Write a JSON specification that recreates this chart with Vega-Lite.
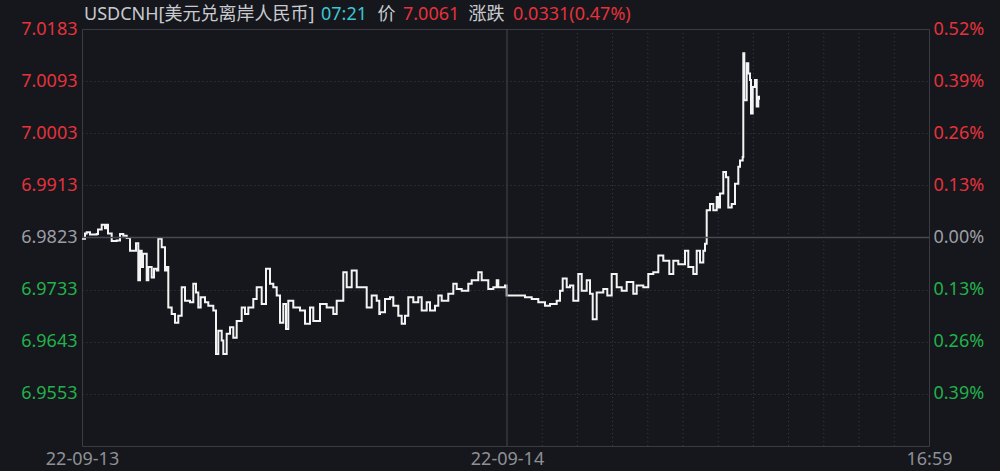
{
  "$schema": "https://vega.github.io/schema/vega-lite/v6.json",
  "width": 847,
  "height": 417,
  "autosize": "none",
  "padding": {"left": 82, "top": 29, "right": 71, "bottom": 25},
  "background": "#15171c",
  "config": {
    "view": {"stroke": "#3a3c42", "strokeWidth": 1},
    "font": "Noto Sans, Noto Sans CJK SC"
  },
  "datasets": {
    "price": [
      {"t": 0, "v": 6.9821}, {"t": 3, "v": 6.9830}, {"t": 4.7, "v": 6.9832}, {"t": 8, "v": 6.9828},
      {"t": 14.7, "v": 6.9829}, {"t": 16, "v": 6.9837}, {"t": 19.7, "v": 6.9845}, {"t": 23, "v": 6.9839},
      {"t": 24.7, "v": 6.9845}, {"t": 26, "v": 6.9830}, {"t": 29.7, "v": 6.9817}, {"t": 34.7, "v": 6.9818},
      {"t": 38, "v": 6.9829}, {"t": 41.3, "v": 6.9826}, {"t": 44.7, "v": 6.9822}, {"t": 48, "v": 6.9800},
      {"t": 51, "v": 6.9800}, {"t": 54, "v": 6.9813}, {"t": 56.3, "v": 6.9749}, {"t": 58, "v": 6.9800},
      {"t": 59.7, "v": 6.9772}, {"t": 61, "v": 6.9795}, {"t": 64.7, "v": 6.9749}, {"t": 66.3, "v": 6.9772},
      {"t": 69.7, "v": 6.9754}, {"t": 72, "v": 6.9769}, {"t": 74.7, "v": 6.9766}, {"t": 76.3, "v": 6.9821},
      {"t": 79.7, "v": 6.9806}, {"t": 83, "v": 6.9766}, {"t": 84.7, "v": 6.9772}, {"t": 86.3, "v": 6.9702},
      {"t": 89.7, "v": 6.9691}, {"t": 93, "v": 6.9676}, {"t": 96.3, "v": 6.9688}, {"t": 99.7, "v": 6.9737},
      {"t": 103, "v": 6.9714}, {"t": 108, "v": 6.9711}, {"t": 111.3, "v": 6.9743}, {"t": 114, "v": 6.9728},
      {"t": 116.3, "v": 6.9702}, {"t": 118.7, "v": 6.9720}, {"t": 123, "v": 6.9711}, {"t": 126.3, "v": 6.9705},
      {"t": 131.3, "v": 6.9697}, {"t": 134, "v": 6.9622}, {"t": 136.3, "v": 6.9662}, {"t": 139.7, "v": 6.9645},
      {"t": 141.3, "v": 6.9622}, {"t": 144.7, "v": 6.9657}, {"t": 148, "v": 6.9668}, {"t": 151.3, "v": 6.9650},
      {"t": 154.7, "v": 6.9679}, {"t": 159.7, "v": 6.9702}, {"t": 163, "v": 6.9691}, {"t": 166.3, "v": 6.9702},
      {"t": 171.3, "v": 6.9717}, {"t": 174.7, "v": 6.9737}, {"t": 179.7, "v": 6.9708}, {"t": 184, "v": 6.9769},
      {"t": 188, "v": 6.9743}, {"t": 191.3, "v": 6.9737}, {"t": 194.7, "v": 6.9723}, {"t": 198, "v": 6.9676},
      {"t": 201.3, "v": 6.9708}, {"t": 204, "v": 6.9665}, {"t": 206.3, "v": 6.9714}, {"t": 211.3, "v": 6.9702},
      {"t": 218, "v": 6.9697}, {"t": 223, "v": 6.9674}, {"t": 228, "v": 6.9702}, {"t": 231.3, "v": 6.9679},
      {"t": 238, "v": 6.9708}, {"t": 244.7, "v": 6.9702}, {"t": 251.3, "v": 6.9691}, {"t": 254.7, "v": 6.9714},
      {"t": 261.3, "v": 6.9763}, {"t": 264.7, "v": 6.9737}, {"t": 269.7, "v": 6.9766}, {"t": 274.7, "v": 6.9737},
      {"t": 281.3, "v": 6.9737}, {"t": 284.7, "v": 6.9702}, {"t": 289.7, "v": 6.9723}, {"t": 294.7, "v": 6.9714},
      {"t": 297.3, "v": 6.9691}, {"t": 298, "v": 6.9694}, {"t": 303, "v": 6.9717}, {"t": 308, "v": 6.9720},
      {"t": 311.3, "v": 6.9705}, {"t": 316.3, "v": 6.9688}, {"t": 319.7, "v": 6.9674}, {"t": 323, "v": 6.9688},
      {"t": 326.3, "v": 6.9720}, {"t": 331.3, "v": 6.9711}, {"t": 336.3, "v": 6.9720}, {"t": 339.7, "v": 6.9697},
      {"t": 344.7, "v": 6.9711}, {"t": 348, "v": 6.9697}, {"t": 353, "v": 6.9705}, {"t": 356.3, "v": 6.9723},
      {"t": 359.7, "v": 6.9714}, {"t": 366.3, "v": 6.9726}, {"t": 371.3, "v": 6.9743}, {"t": 374.7, "v": 6.9734},
      {"t": 379.7, "v": 6.9731}, {"t": 386.3, "v": 6.9743}, {"t": 389.7, "v": 6.9749}, {"t": 396.3, "v": 6.9763},
      {"t": 399.7, "v": 6.9749}, {"t": 406.3, "v": 6.9734}, {"t": 411.3, "v": 6.9737}, {"t": 414.7, "v": 6.9749},
      {"t": 416.3, "v": 6.9737}, {"t": 423, "v": 6.9740}, {"t": 424.7, "v": 6.9723}, {"t": 431.3, "v": 6.9723},
      {"t": 443, "v": 6.9720}, {"t": 449.7, "v": 6.9717}, {"t": 456.3, "v": 6.9711}, {"t": 463, "v": 6.9705},
      {"t": 468, "v": 6.9708}, {"t": 474.7, "v": 6.9714}, {"t": 478, "v": 6.9731}, {"t": 480.7, "v": 6.9752},
      {"t": 484.7, "v": 6.9737}, {"t": 488, "v": 6.9740}, {"t": 491.3, "v": 6.9714}, {"t": 496.3, "v": 6.9760},
      {"t": 499.7, "v": 6.9731}, {"t": 504.7, "v": 6.9749}, {"t": 508, "v": 6.9726}, {"t": 510.7, "v": 6.9682},
      {"t": 514.7, "v": 6.9728}, {"t": 521.3, "v": 6.9734}, {"t": 525.3, "v": 6.9723}, {"t": 529.7, "v": 6.9760},
      {"t": 534.7, "v": 6.9737}, {"t": 539.7, "v": 6.9731}, {"t": 544.7, "v": 6.9746}, {"t": 551.3, "v": 6.9726},
      {"t": 554.7, "v": 6.9740}, {"t": 561.3, "v": 6.9737}, {"t": 566.3, "v": 6.9760}, {"t": 571.3, "v": 6.9763},
      {"t": 576.3, "v": 6.9792}, {"t": 581.3, "v": 6.9783}, {"t": 587.3, "v": 6.9760}, {"t": 591.3, "v": 6.9783},
      {"t": 596.3, "v": 6.9777}, {"t": 603, "v": 6.9800}, {"t": 606.3, "v": 6.9772}, {"t": 611.3, "v": 6.9760},
      {"t": 614.7, "v": 6.9800}, {"t": 618, "v": 6.9780}, {"t": 621.3, "v": 6.9800}, {"t": 623, "v": 6.9812},
      {"t": 624.7, "v": 6.9870}, {"t": 628, "v": 6.9881}, {"t": 631.3, "v": 6.9870}, {"t": 634.7, "v": 6.9893},
      {"t": 636.3, "v": 6.9875}, {"t": 638, "v": 6.9899}, {"t": 641.3, "v": 6.9936}, {"t": 644, "v": 6.9927},
      {"t": 646.3, "v": 6.9875}, {"t": 649.7, "v": 6.9881}, {"t": 653, "v": 6.9916}, {"t": 656.3, "v": 6.9945},
      {"t": 658, "v": 6.9956}, {"t": 660.7, "v": 6.9962}, {"t": 661.3, "v": 7.0141}, {"t": 662.3, "v": 7.0060},
      {"t": 664.7, "v": 7.0124}, {"t": 666.3, "v": 7.0106}, {"t": 668, "v": 7.0095}, {"t": 669, "v": 7.0037},
      {"t": 670.7, "v": 7.0083}, {"t": 673, "v": 7.0095}, {"t": 674.7, "v": 7.0049}, {"t": 676.3, "v": 7.0066},
      {"t": 677, "v": 7.0061}
    ],
    "hours": [
      {"t": 460.2}, {"t": 495.4}, {"t": 530.6}, {"t": 565.8}, {"t": 601}, {"t": 636.2},
      {"t": 671.4}, {"t": 706.6}, {"t": 741.8}, {"t": 777}, {"t": 812.2}
    ],
    "one": [{"k": 1}]
  },
  "resolve": {"axis": {"y": "independent"}},
  "layer": [
    {
      "data": {"name": "hours"},
      "mark": {"type": "rule", "color": "#3a3d43", "strokeWidth": 1, "strokeDash": [1, 3]},
      "encoding": {
        "x": {"field": "t", "type": "quantitative", "title": null, "scale": {"domain": [0, 847], "nice": false, "zero": false}}
      }
    },
    {
      "data": {"name": "price"},
      "mark": {"type": "line", "color": "#f4f4f4", "strokeWidth": 2, "interpolate": "step-after"},
      "encoding": {
        "x": {
          "field": "t", "type": "quantitative", "title": null,
          "scale": {"domain": [0, 847], "nice": false, "zero": false},
          "axis": {
            "values": [0, 425, 847],
            "labelExpr": "datum.value == 0 ? '22-09-13' : datum.value == 425 ? '22-09-14' : '16:59'",
            "labelFontSize": 18, "labelColor": "#8e9096", "labelPadding": 4,
            "ticks": false, "domain": false, "grid": false, "labelFlush": false
          }
        },
        "y": {
          "field": "v", "type": "quantitative", "title": null,
          "scale": {"domain": [6.9463, 7.0183], "nice": false, "zero": false},
          "axis": {
            "orient": "left",
            "values": [6.9553, 6.9643, 6.9733, 6.9823, 6.9913, 7.0003, 7.0093, 7.0183],
            "format": ".4f",
            "labelFontSize": 18, "labelPadding": 5, "labelBaseline": "middle",
            "labelColor": {
              "condition": [
                {"test": "datum.value > 6.98235", "value": "#e5323b"},
                {"test": "datum.value < 6.98225", "value": "#22b14c"}
              ],
              "value": "#9c9ea3"
            },
            "ticks": false, "domain": false,
            "grid": true, "gridColor": "#3a3d43", "gridDash": [1, 3], "gridWidth": 1
          }
        }
      }
    },
    {
      "data": {"name": "one"},
      "mark": {"type": "rule", "color": "#46494f", "strokeWidth": 1.5},
      "encoding": {
        "y": {
          "datum": 6.9823, "type": "quantitative", "title": null,
          "scale": {"domain": [6.9463, 7.0183], "nice": false, "zero": false},
          "axis": {
            "orient": "right",
            "values": [6.9553, 6.9643, 6.9733, 6.9823, 6.9913, 7.0003, 7.0093, 7.0183],
            "labelExpr": "format(abs(datum.value - 6.9823) / 6.9823 * 100, '.2f') + '%'",
            "labelFontSize": 18, "labelPadding": 4, "labelBaseline": "middle",
            "labelColor": {
              "condition": [
                {"test": "datum.value > 6.98235", "value": "#e5323b"},
                {"test": "datum.value < 6.98225", "value": "#22b14c"}
              ],
              "value": "#9c9ea3"
            },
            "ticks": false, "domain": false, "grid": false
          }
        }
      }
    },
    {
      "data": {"name": "one"},
      "mark": {"type": "rule", "color": "#46494f", "strokeWidth": 1},
      "encoding": {
        "x": {"datum": 425, "type": "quantitative", "title": null}
      }
    },
    {
      "data": {"name": "one"},
      "mark": {"type": "text", "text": "USDCNH[美元兑离岸人民币]", "align": "left", "baseline": "alphabetic", "fontSize": 18, "color": "#c8cacf"},
      "encoding": {
        "x": {"datum": 2, "type": "quantitative", "title": null},
        "y": {"datum": 7.01994, "type": "quantitative", "axis": null}
      }
    },
    {
      "data": {"name": "one"},
      "mark": {"type": "text", "text": "07:21", "align": "left", "baseline": "alphabetic", "fontSize": 18, "color": "#3cc6d2"},
      "encoding": {
        "x": {"datum": 239, "type": "quantitative", "title": null},
        "y": {"datum": 7.01994, "type": "quantitative", "axis": null}
      }
    },
    {
      "data": {"name": "one"},
      "mark": {"type": "text", "text": "价", "align": "left", "baseline": "alphabetic", "fontSize": 18, "color": "#c8cacf"},
      "encoding": {
        "x": {"datum": 295.6, "type": "quantitative", "title": null},
        "y": {"datum": 7.01994, "type": "quantitative", "axis": null}
      }
    },
    {
      "data": {"name": "one"},
      "mark": {"type": "text", "text": "7.0061", "align": "left", "baseline": "alphabetic", "fontSize": 18, "color": "#e5323b"},
      "encoding": {
        "x": {"datum": 321, "type": "quantitative", "title": null},
        "y": {"datum": 7.01994, "type": "quantitative", "axis": null}
      }
    },
    {
      "data": {"name": "one"},
      "mark": {"type": "text", "text": "涨跌", "align": "left", "baseline": "alphabetic", "fontSize": 18, "color": "#c8cacf"},
      "encoding": {
        "x": {"datum": 386.6, "type": "quantitative", "title": null},
        "y": {"datum": 7.01994, "type": "quantitative", "axis": null}
      }
    },
    {
      "data": {"name": "one"},
      "mark": {"type": "text", "text": "0.0331(0.47%)", "align": "left", "baseline": "alphabetic", "fontSize": 18, "color": "#e5323b"},
      "encoding": {
        "x": {"datum": 431, "type": "quantitative", "title": null},
        "y": {"datum": 7.01994, "type": "quantitative", "axis": null}
      }
    }
  ]
}
